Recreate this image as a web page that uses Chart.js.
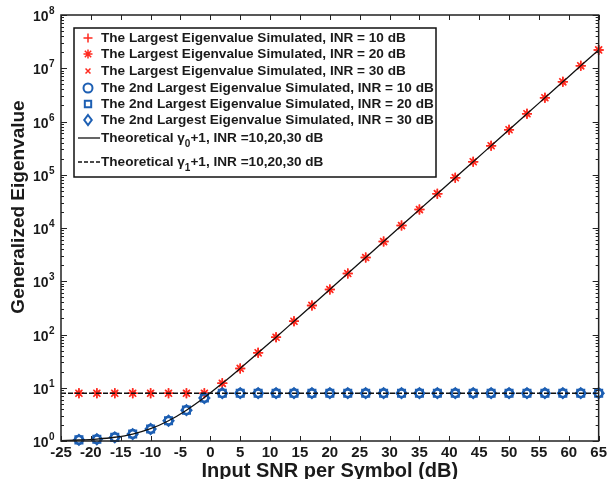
<!DOCTYPE html>
<html>
<head>
<meta charset="utf-8">
<script src="https://cdn.jsdelivr.net/npm/chart.js@4.4.0/dist/chart.umd.min.js"></script>
<style>
  html, body { margin: 0; padding: 0; background: #fff; }
</style>
</head>
<body>
<canvas id="grafica" width="610" height="479"></canvas>
<script>
// valores
const snrSim = [-22, -19, -16, -13, -10, -7, -4, -1, 2, 5, 8, 11, 14, 17, 20, 23, 26, 29, 32, 35, 38, 41, 44, 47, 50, 53, 56, 59, 62, 65];
const largestEig = [7.9, 7.9, 7.9, 7.9, 7.9, 7.9, 7.9, 7.9, 12.1, 23.1, 45.2, 89, 177, 352, 701, 1398, 2788, 5560, 11090, 22140, 44170, 88120, 175800, 350800, 700000, 1397000, 2787000, 5560000, 11090000, 22100000];
const secondEig = [1.05, 1.08, 1.17, 1.35, 1.68, 2.4, 3.8, 6.4, 7.9, 7.9, 7.9, 7.9, 7.9, 7.9, 7.9, 7.9, 7.9, 7.9, 7.9, 7.9, 7.9, 7.9, 7.9, 7.9, 7.9, 7.9, 7.9, 7.9, 7.9, 7.9];
const snrTheory = [-25, -22, -19, -16, -13, -10, -7, -4, -1, 2, 5, 8, 11, 14, 17, 20, 23, 26, 29, 32, 35, 38, 41, 44, 47, 50, 53, 56, 59, 62, 65];
const gamma0Theory = [1.02, 1.044, 1.088, 1.176, 1.35, 1.7, 2.4, 3.79, 6.56, 12.1, 23.1, 45.2, 89, 177, 352, 701, 1398, 2788, 5560, 11090, 22140, 44170, 88120, 175800, 350800, 700000, 1397000, 2787000, 5560000, 11090000, 22100000];
const snrFlat = [-25, 65];
const gamma1Theory = [7.9, 7.9];
const yDecades = [0, 1, 2, 3, 4, 5, 6, 7, 8];

const rojo = '#ff2a1f';
const azul = '#1d5fb3';
const fuente = '"Liberation Sans", Arial, sans-serif';

const leyenda = [
  { y: 38, estilo: 'cross', color: rojo, texto: 'The Largest Eigenvalue Simulated, INR = 10 dB' },
  { y: 54, estilo: 'star', color: rojo, texto: 'The Largest Eigenvalue Simulated, INR = 20 dB' },
  { y: 71, estilo: 'crossRot', color: rojo, texto: 'The Largest Eigenvalue Simulated, INR = 30 dB' },
  { y: 88, estilo: 'circle', color: azul, texto: 'The 2nd Largest Eigenvalue Simulated, INR = 10 dB' },
  { y: 104, estilo: 'rect', color: azul, texto: 'The 2nd Largest Eigenvalue Simulated, INR = 20 dB' },
  { y: 120, estilo: 'rectRot', color: azul, texto: 'The 2nd Largest Eigenvalue Simulated, INR = 30 dB' },
  { y: 138, estilo: 'solid', sub: '0' },
  { y: 162, estilo: 'dash', sub: '1' }
];

function puntos(xs, ys) {
  return xs.map((x, i) => ({ x: x, y: ys[i] }));
}

function marca(ctx, estilo, cx, cy, r) {
  const d = r * Math.SQRT1_2;
  ctx.beginPath();
  if (estilo === 'cross' || estilo === 'star') {
    ctx.moveTo(cx - r, cy); ctx.lineTo(cx + r, cy);
    ctx.moveTo(cx, cy - r); ctx.lineTo(cx, cy + r);
  }
  if (estilo === 'crossRot' || estilo === 'star') {
    ctx.moveTo(cx - d, cy - d); ctx.lineTo(cx + d, cy + d);
    ctx.moveTo(cx - d, cy + d); ctx.lineTo(cx + d, cy - d);
  }
  if (estilo === 'circle') ctx.arc(cx, cy, r, 0, Math.PI * 2);
  if (estilo === 'rect') ctx.rect(cx - d, cy - d, 2 * d, 2 * d);
  if (estilo === 'rectRot') {
    ctx.moveTo(cx, cy - r); ctx.lineTo(cx + r * 0.75, cy);
    ctx.lineTo(cx, cy + r); ctx.lineTo(cx - r * 0.75, cy); ctx.closePath();
  }
  ctx.stroke();
}

function linea(ctx, x1, y1, x2, y2) {
  ctx.beginPath(); ctx.moveTo(x1, y1); ctx.lineTo(x2, y2); ctx.stroke();
}

const marcoEjes = {
  id: 'marcoEjes',
  afterDatasetsDraw(chart) {
    const ctx = chart.ctx;
    const { left, right, top, bottom } = chart.chartArea;
    const sx = chart.scales.x, sy = chart.scales.y;
    ctx.save();
    ctx.strokeStyle = '#222';
    ctx.lineWidth = 1;
    // ticks hacia dentro, abajo y arriba
    sx.ticks.forEach(t => {
      const px = Math.round(sx.getPixelForValue(t.value)) + 0.5;
      linea(ctx, px, bottom, px, bottom - 5);
      linea(ctx, px, top, px, top + 5);
    });
    // ticks log, izquierda y derecha
    yDecades.forEach(e => {
      const py = Math.round(sy.getPixelForValue(Math.pow(10, e))) + 0.5;
      linea(ctx, left, py, left + 6, py);
      linea(ctx, right, py, right - 6, py);
      if (e < 8) {
        for (let k = 2; k <= 9; k++) {
          const pm = Math.round(sy.getPixelForValue(k * Math.pow(10, e))) + 0.5;
          linea(ctx, left, pm, left + 3, pm);
          linea(ctx, right, pm, right - 3, pm);
        }
      }
      // etiqueta 10^e
      ctx.fillStyle = '#1a1a1a';
      ctx.textAlign = 'right';
      ctx.textBaseline = 'alphabetic';
      ctx.font = 'bold 14px ' + fuente;
      ctx.fillText('10', 48.5, py + 5.5);
      ctx.textAlign = 'left';
      ctx.font = 'bold 10px ' + fuente;
      ctx.fillText(String(e), 49, py - 2);
    });
    ctx.lineWidth = 1.5;
    ctx.strokeStyle = '#222';
    ctx.strokeRect(left, top, right - left, bottom - top);

    // titulos de ejes
    ctx.fillStyle = '#1a1a1a';
    ctx.font = 'bold 20px ' + fuente;
    ctx.textAlign = 'center';
    ctx.textBaseline = 'alphabetic';
    ctx.fillText('Input SNR per Symbol (dB)', (left + right) / 2, 477);
    ctx.save();
    ctx.translate(19, 207);
    ctx.rotate(-Math.PI / 2);
    ctx.font = 'bold 19px ' + fuente;
    ctx.textBaseline = 'middle';
    ctx.fillText('Generalized Eigenvalue', 0, 0);
    ctx.restore();

    // leyenda
    ctx.fillStyle = '#fff';
    ctx.fillRect(74, 28, 362, 149);
    ctx.strokeStyle = '#111';
    ctx.lineWidth = 1.5;
    ctx.strokeRect(74, 28, 362, 149);
    leyenda.forEach(it => {
      ctx.textAlign = 'left';
      ctx.textBaseline = 'middle';
      if (it.texto) {
        ctx.strokeStyle = it.color;
        ctx.lineWidth = it.color === azul ? 2 : 1.5;
        const r = it.estilo === 'crossRot' ? 3.5 : it.estilo === 'rectRot' ? 5 : 4.5;
        marca(ctx, it.estilo, 88, it.y, r);
        ctx.fillStyle = '#1a1a1a';
        ctx.font = 'bold 13.6px ' + fuente;
        ctx.fillText(it.texto, 101, it.y);
      } else {
        ctx.strokeStyle = '#111';
        ctx.lineWidth = 1.3;
        ctx.setLineDash(it.estilo === 'dash' ? [4, 2] : []);
        linea(ctx, 78, it.y, 100, it.y);
        ctx.setLineDash([]);
        ctx.fillStyle = '#1a1a1a';
        ctx.font = 'bold 13.6px ' + fuente;
        let xx = 101;
        ctx.fillText('Theoretical ', xx, it.y);
        xx += ctx.measureText('Theoretical ').width;
        ctx.fillText('\u03b3', xx, it.y);
        xx += ctx.measureText('\u03b3').width;
        ctx.font = 'bold 10px ' + fuente;
        ctx.fillText(it.sub, xx, it.y + 6);
        xx += ctx.measureText(it.sub).width;
        ctx.font = 'bold 13.6px ' + fuente;
        ctx.fillText('+1, INR =10,20,30 dB', xx, it.y);
      }
    });
    ctx.restore();
  }
};

new Chart(document.getElementById('grafica'), {
  type: 'scatter',
  data: {
    datasets: [
      { data: puntos(snrTheory, gamma0Theory), showLine: true, borderColor: '#111', borderWidth: 1.3,
        pointRadius: 0, cubicInterpolationMode: 'monotone', order: 0 },
      { data: puntos(snrFlat, gamma1Theory), showLine: true, borderColor: '#111', borderWidth: 1.6,
        borderDash: [5, 2], pointRadius: 0, order: 0 },
      { data: puntos(snrSim, largestEig), pointStyle: 'cross', pointRadius: 5, borderColor: rojo, borderWidth: 1.5, clip: false, order: 2 },
      { data: puntos(snrSim, largestEig), pointStyle: 'star', pointRadius: 5, borderColor: rojo, borderWidth: 1.5, clip: false, order: 2 },
      { data: puntos(snrSim, largestEig), pointStyle: 'crossRot', pointRadius: 4, borderColor: rojo, borderWidth: 1.5, clip: false, order: 2 },
      { data: puntos(snrSim, secondEig), pointStyle: 'circle', pointRadius: 4, borderColor: azul, backgroundColor: 'transparent', borderWidth: 2, clip: false, order: 1 },
      { data: puntos(snrSim, secondEig), pointStyle: 'rect', pointRadius: 5, borderColor: azul, backgroundColor: 'transparent', borderWidth: 2, clip: false, order: 1 },
      { data: puntos(snrSim, secondEig), pointStyle: 'rectRot', pointRadius: 5, borderColor: azul, backgroundColor: 'transparent', borderWidth: 2, clip: false, order: 1 }
    ]
  },
  options: {
    responsive: false,
    animation: false,
    devicePixelRatio: 1,
    layout: { padding: { top: 15, right: 9, left: 0, bottom: 0 } },
    plugins: { legend: { display: false }, tooltip: { enabled: false } },
    scales: {
      x: {
        type: 'linear', min: -25, max: 65,
        ticks: { stepSize: 5, autoSkip: false, maxRotation: 0, padding: 3, color: '#1a1a1a',
          font: { family: fuente, size: 15, weight: 'bold' } },
        grid: { display: false, drawTicks: false },
        border: { display: false },
        afterFit: s => { s.height = 38; }
      },
      y: {
        type: 'logarithmic', min: 1, max: 1e8,
        ticks: { display: false },
        grid: { display: false, drawTicks: false },
        border: { display: false },
        afterFit: s => { s.width = 61; }
      }
    }
  },
  plugins: [marcoEjes]
});
</script>
</body>
</html>
